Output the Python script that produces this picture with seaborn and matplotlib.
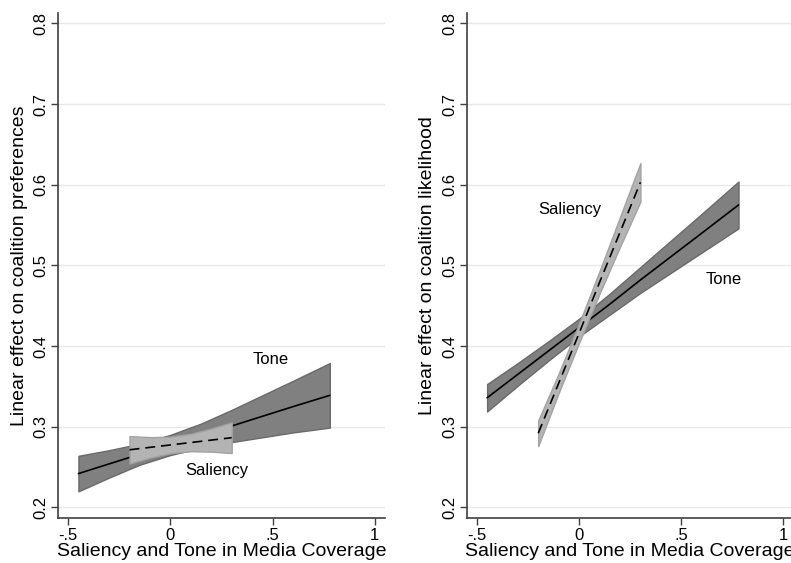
import matplotlib
matplotlib.use("Agg")
import matplotlib.pyplot as plt
import seaborn as sns
import pandas as pd

# left panel: coalition preferences
pref_tone_x = [-0.45, -0.3, -0.15, 0.0, 0.15, 0.3, 0.45, 0.6, 0.78]
pref_tone_fit = [0.242, 0.254, 0.266, 0.278, 0.289, 0.301, 0.313, 0.325, 0.339]
pref_tone_lo = [0.220, 0.237, 0.253, 0.265, 0.274, 0.281, 0.287, 0.293, 0.299]
pref_tone_hi = [0.264, 0.271, 0.279, 0.290, 0.304, 0.321, 0.339, 0.357, 0.379]

pref_sal_x = [-0.2, -0.1, 0.0, 0.1, 0.2, 0.3]
pref_sal_fit = [0.2715, 0.2745, 0.2775, 0.2805, 0.2835, 0.2865]
pref_sal_lo = [0.2545, 0.2618, 0.2673, 0.2697, 0.2692, 0.2675]
pref_sal_hi = [0.2885, 0.2872, 0.2877, 0.2913, 0.2978, 0.3055]

# right panel: coalition likelihood
like_tone_x = [-0.45, -0.3, -0.15, 0.0, 0.15, 0.3, 0.45, 0.6, 0.78]
like_tone_fit = [0.336, 0.365, 0.394, 0.423, 0.452, 0.482, 0.511, 0.540, 0.575]
like_tone_lo = [0.319, 0.351, 0.382, 0.412, 0.439, 0.466, 0.491, 0.516, 0.546]
like_tone_hi = [0.353, 0.379, 0.406, 0.434, 0.465, 0.498, 0.531, 0.564, 0.604]

like_sal_x = [-0.2, -0.1, 0.0, 0.1, 0.2, 0.3]
like_sal_fit = [0.292, 0.354, 0.416, 0.479, 0.541, 0.603]
like_sal_lo = [0.276, 0.342, 0.404, 0.465, 0.523, 0.579]
like_sal_hi = [0.308, 0.366, 0.428, 0.493, 0.560, 0.627]

x_ticks = [-0.5, 0, 0.5, 1]
x_tick_labels = ["-.5", "0", ".5", "1"]
y_ticks = [0.2, 0.3, 0.4, 0.5, 0.6, 0.7, 0.8]
y_tick_labels = ["0.2", "0.3", "0.4", "0.5", "0.6", "0.7", "0.8"]

sns.set_theme(style="white")
plt.rcParams["font.family"] = ["Liberation Sans", "DejaVu Sans"]
plt.rcParams["text.color"] = "black"
plt.rcParams["axes.labelcolor"] = "black"
plt.rcParams["xtick.color"] = "black"
plt.rcParams["ytick.color"] = "black"

fig = plt.figure(figsize=(7.91, 5.63), dpi=100)
ax_left = fig.add_axes([0.0733, 0.080, 0.4134, 0.897])
ax_right = fig.add_axes([0.590, 0.080, 0.4134, 0.897])


def draw_fit(ax, x, fit, lo, hi, fill, edge, dashed, z):
    df = pd.DataFrame({"x": x, "fit": fit, "lo": lo, "hi": hi})
    ax.fill_between(df["x"], df["lo"], df["hi"], facecolor=fill,
                    edgecolor=edge, linewidth=1.0, zorder=z)
    line = sns.lineplot(data=df, x="x", y="fit", ax=ax, color="black",
                        linewidth=1.2, zorder=z + 1).lines[-1]
    if dashed:
        line.set_dashes((6, 3.5))


panels = [
    (ax_left, "Linear effect on coalition preferences",
     (pref_tone_x, pref_tone_fit, pref_tone_lo, pref_tone_hi),
     (pref_sal_x, pref_sal_fit, pref_sal_lo, pref_sal_hi),
     (0.489, 0.383), (0.225, 0.246)),
    (ax_right, "Linear effect on coalition likelihood",
     (like_tone_x, like_tone_fit, like_tone_lo, like_tone_hi),
     (like_sal_x, like_sal_fit, like_sal_lo, like_sal_hi),
     (0.709, 0.483), (-0.047, 0.569)),
]

for ax, ylab, tone, sal, tone_pos, sal_pos in panels:
    for y in y_ticks:
        ax.axhline(y, color="#e8e8e8", linewidth=1.0, zorder=0)
    draw_fit(ax, *tone, fill="#808080", edge="#6a6a6a", dashed=False, z=2)
    draw_fit(ax, *sal, fill="#b4b4b4", edge="#a2a2a2", dashed=True, z=4)
    ax.text(tone_pos[0], tone_pos[1], "Tone", ha="center", va="center", fontsize=12)
    ax.text(sal_pos[0], sal_pos[1], "Saliency", ha="center", va="center", fontsize=12)

    ax.set_xlim(-0.55, 1.05)
    ax.set_ylim(0.187, 0.813)
    ax.set_xticks(x_ticks)
    ax.set_xticklabels(x_tick_labels, fontsize=12)
    ax.set_yticks(y_ticks)
    ax.set_yticklabels(y_tick_labels, fontsize=12, rotation=90, va="center")
    ax.tick_params(axis="both", direction="out", length=5, width=1,
                   color="#404040", bottom=True, left=True, pad=2)
    ax.xaxis.labelpad = 0
    ax.set_xlabel("Saliency and Tone in Media Coverage", fontsize=14)
    ax.set_ylabel(ylab, fontsize=14, labelpad=4)
    sns.despine(ax=ax)
    for side in ["left", "bottom"]:
        ax.spines[side].set_color("#404040")
        ax.spines[side].set_linewidth(1.2)

fig.savefig("out.png", dpi=100)
